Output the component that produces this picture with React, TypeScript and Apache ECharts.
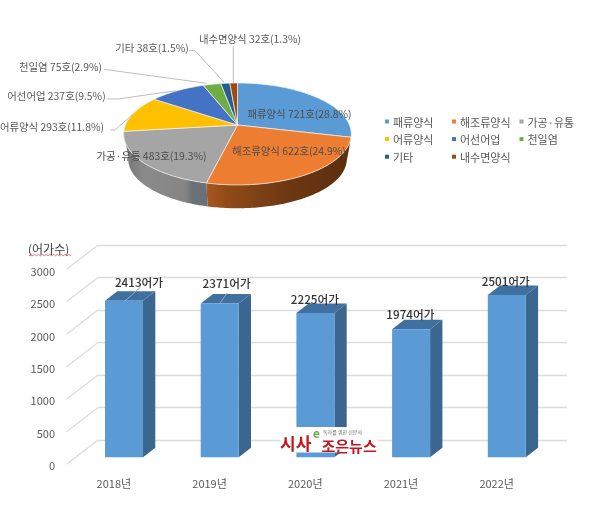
import React, { useEffect, useRef } from "react";
import * as echarts from "echarts";

// ---- data ----
const pieNames = ["패류양식", "해조류양식", "가공·유통", "어류양식", "어선어업", "천일염", "기타", "내수면양식"];
const pieCounts = [721, 622, 483, 293, 237, 75, 38, 32];
const piePercents = ["28.8", "24.9", "19.3", "11.8", "9.5", "2.9", "1.5", "1.3"];
const years = ["2018년", "2019년", "2020년", "2021년", "2022년"];
const farmCounts = [2413, 2371, 2225, 1974, 2501];
const yTicks = [0, 500, 1000, 1500, 2000, 2500, 3000];

// ---- styles and layout ----
const FONT = '"Noto Sans CJK KR", "Noto Sans", sans-serif';
const pieColors = ["#5b9bd5", "#ed7d31", "#a5a5a5", "#ffc000", "#4472c4", "#70ad47", "#255e91", "#9e480e"];
const GRID_LINE = "#dcdcdc";
const LEADER = "#bfbfbf";
const PIE = { cx: 237.5, cy: 125, r: 112, persp: 0.176, squash: 49.4, depth: 25.7, floorScale: 0.96 };
const BAR = { width: 38, dx: 12.3, dy: -9.5 };
// text centre for the pie labels, in pie order
const pieLabelPos = [
  [299.5, 113], [289, 150.7], [151.5, 155.7], [52, 126], [56.5, 95], [60.5, 66], [152, 47], [250, 38],
];
// leader polylines, in pie order (the first three labels sit on their slices)
const leaders: number[][][] = [
  [], [], [],
  [[110, 130], [115, 130], [133, 114]],
  [[106.7, 99], [118, 99], [176, 90.7]],
  [[104, 69.3], [206.7, 83.3]],
  [[189, 50.7], [195, 50.7], [224, 82.3]],
  [[233.3, 46], [233.3, 82.7]],
];
// bar label offset from the top-centre of the front face
const barLabelOffset = [[15, -19], [7, -21], [-0.5, -14.6], [-0.7, -16], [-1, -14]];
const barLeader = [[[0, 1], [16.5, -13.5]], [[0.5, -0.5], [7.5, -10.5]], null, null, null];

const projected = (deg: number, scale = 1, drop = 0) => {
  const t = (deg * Math.PI) / 180;
  const d = 1 + PIE.persp * Math.cos(t);
  return [
    PIE.cx + (PIE.r * scale * Math.sin(t)) / d,
    PIE.cy + drop - (PIE.squash * scale * Math.cos(t)) / d,
  ];
};
const arc = (a: number, b: number, scale = 1, drop = 0) => {
  const out: number[][] = [];
  const n = Math.max(2, Math.ceil(Math.abs(b - a)));
  for (let i = 0; i <= n; i++) out.push(projected(a + ((b - a) * i) / n, scale, drop));
  return out;
};
const total = pieCounts.reduce((s, v) => s + v, 0);
const sliceAngles = (i: number) => {
  const before = pieCounts.slice(0, i).reduce((s, v) => s + v, 0);
  return [(before / total) * 360, ((before + pieCounts[i]) / total) * 360];
};
const wall = (a: number, b: number, stops: [number, string][]) => ({
  type: "polygon",
  shape: { points: [...arc(a, b), ...arc(b, a, PIE.floorScale, PIE.depth)] },
  style: {
    fill: new echarts.graphic.LinearGradient(0, 0, 1, 0, stops.map(([offset, color]) => ({ offset, color }))),
    stroke: "none",
  },
});

const legendBase = {
  orient: "vertical" as const,
  icon: "rect",
  itemWidth: 4,
  itemHeight: 4,
  itemGap: 6.6,
  selectedMode: false,
  padding: 0,
  top: 116,
  textStyle: { color: "#595959", fontSize: 11, fontFamily: FONT, padding: [0, 0, 0, -1] },
};

const buildOption = () => ({
  animation: false,
  backgroundColor: "#ffffff",
  legend: [
    { ...legendBase, left: 385, data: [pieNames[0], pieNames[3], pieNames[6]] },
    { ...legendBase, left: 452, data: [pieNames[1], pieNames[4], pieNames[7]] },
    { ...legendBase, left: 519.5, data: [pieNames[2], pieNames[5]] },
  ],
  grid: [
    { left: 98, top: 245, width: 469, height: 195 },
    { left: 66, top: 271, width: 478.5, height: 194 },
    { left: 76.15, top: 262.6, width: 478.5, height: 194.7 },
  ],
  xAxis: [
    { type: "category", gridIndex: 0, data: years, show: false },
    {
      type: "category", gridIndex: 1, data: years,
      axisLine: { show: false }, axisTick: { show: false },
      axisLabel: { color: "#595959", fontSize: 11, fontFamily: FONT, margin: 12 },
    },
    { type: "category", gridIndex: 2, data: years, show: false },
  ],
  yAxis: [
    {
      type: "value", gridIndex: 0, min: 0, max: 3000, interval: 500,
      axisLine: { show: false }, axisTick: { show: false }, axisLabel: { show: false },
      splitLine: { lineStyle: { color: GRID_LINE, width: 1.4 } },
    },
    {
      type: "value", gridIndex: 1, min: 0, max: 3000, interval: 500,
      axisLine: { show: false }, axisTick: { show: false }, splitLine: { show: false },
      axisLabel: { color: "#595959", fontSize: 11, fontFamily: FONT, margin: 11, formatter: (v: number) => String(v) },
    },
    { type: "value", gridIndex: 2, min: 0, max: 3000, interval: 500, show: false },
  ],
  series: [
    // depth lines of the chart floor and side wall
    {
      type: "custom", name: "depth", xAxisIndex: 0, yAxisIndex: 0, silent: true, clip: false,
      data: yTicks.map((t) => [0, t]), encode: { x: 0, y: 1 },
      renderItem: (_p: any, api: any) => {
        const y = api.coord([0, api.value(1)])[1];
        return {
          type: "line",
          shape: { x1: 98, y1: y, x2: 66.5, y2: y + 24.3 },
          style: { stroke: GRID_LINE, lineWidth: 1.2 },
        };
      },
    },
    // bars
    {
      type: "custom", name: "어가수", xAxisIndex: 2, yAxisIndex: 2, clip: false,
      data: farmCounts.map((v, i) => [i, v]), encode: { x: 0, y: 1 },
      renderItem: (p: any, api: any) => {
        const i = api.value(0);
        const [cx, top] = api.coord([i, api.value(1)]);
        const bottom = api.coord([i, 0])[1];
        const l = cx - BAR.width / 2;
        const r = cx + BAR.width / 2;
        const { dx, dy } = BAR;
        const off = barLabelOffset[p.dataIndex];
        const lead = barLeader[p.dataIndex];
        const children: any[] = [
          { type: "polygon", shape: { points: [[r, top], [r + dx, top + dy], [r + dx, bottom + dy], [r, bottom]] }, style: { fill: "#3a668f" } },
          { type: "polygon", shape: { points: [[l, top], [l + dx, top + dy], [r + dx, top + dy], [r, top]] }, style: { fill: "#40709f" } },
          { type: "rect", shape: { x: l, y: top, width: BAR.width, height: bottom - top }, style: { fill: "#5b9bd5" } },
        ];
        if (lead) {
          children.push({
            type: "line",
            shape: { x1: cx + lead[0][0], y1: top + lead[0][1], x2: cx + lead[1][0], y2: top + lead[1][1] },
            style: { stroke: "#8fa9c2", lineWidth: 1 },
          });
        }
        children.push({
          type: "text",
          style: {
            x: cx + off[0], y: top + off[1],
            text: `${api.value(1)}어가`,
            align: "center", verticalAlign: "middle",
            fill: "#333333", fontSize: 11.7, fontWeight: 500, fontFamily: FONT,
          },
        });
        return { type: "group", children };
      },
    },
    // pie side wall
    {
      type: "custom", name: "pieWall", coordinateSystem: "none", silent: true, data: [[0]],
      renderItem: () => ({
        type: "group",
        children: [
          wall(sliceAngles(2)[0], 262, [[0, "#747474"], [0.25, "#8a8a8a"], [0.74, "#858585"], [0.82, "#6b7074"], [1, "#66707a"]]),
          wall(sliceAngles(1)[0], sliceAngles(1)[1], [[0, "#a9581f"], [0.15, "#8f4a18"], [0.55, "#6e3812"], [1, "#5a2e0f"]]),
        ],
      }),
    },
    // pie faces, one series per legend entry
    ...pieNames.map((name, i) => ({
      type: "custom", name, coordinateSystem: "none", itemStyle: { color: pieColors[i] },
      data: [[pieCounts[i]]],
      renderItem: () => {
        const [a, b] = sliceAngles(i);
        return {
          type: "polygon",
          shape: { points: [[PIE.cx, PIE.cy], ...arc(a, b)] },
          style: { fill: pieColors[i], stroke: "#f4f4f4", lineWidth: 0.7 },
        };
      },
    })),
    // pie labels and leaders
    {
      type: "custom", name: "pieLabels", coordinateSystem: "none", silent: true,
      data: pieNames.map((_, i) => [i]),
      renderItem: (p: any) => {
        const i = p.dataIndex;
        const children: any[] = [];
        if (leaders[i].length) {
          children.push({ type: "polyline", shape: { points: leaders[i] }, style: { stroke: LEADER, lineWidth: 1, fill: "none" } });
        }
        children.push({
          type: "text",
          style: {
            x: pieLabelPos[i][0], y: pieLabelPos[i][1],
            text: `${pieNames[i]} ${pieCounts[i]}호(${piePercents[i]}%)`,
            align: "center", verticalAlign: "middle",
            fill: i < 3 ? "#4d4d4d" : "#595959", fontSize: 10.4, fontFamily: FONT,
          },
        });
        return { type: "group", children };
      },
    },
  ],
  graphic: [
    { type: "text", z: 100, style: { x: 28, y: 248, text: "(어가수)", fill: "#404040", fontSize: 12, fontFamily: FONT, verticalAlign: "middle" } },
    {
      type: "polyline", z: 100,
      shape: { points: Array.from({ length: 23 }, (_, k) => [29 + k * 1.9, k % 2 ? 254.4 : 255.8]) },
      style: { stroke: "#d9534f", lineWidth: 0.8, fill: "none" },
    },
    { type: "rect", z: 100, shape: { x: 280, y: 427, width: 98, height: 25.5 }, style: { fill: "#ffffff" } },
    { type: "text", z: 101, style: { x: 280, y: 442.5, text: "시사", fill: "#c4161c", fontSize: 17, fontWeight: 700, fontFamily: FONT, verticalAlign: "middle" } },
    { type: "text", z: 101, style: { x: 313, y: 432.5, text: "e", fill: "#6aa84f", fontSize: 12, fontWeight: 700, fontFamily: FONT, verticalAlign: "middle" } },
    { type: "text", z: 101, style: { x: 321.5, y: 445, text: "조은뉴스", fill: "#c4161c", fontSize: 15, fontWeight: 700, fontFamily: FONT, verticalAlign: "middle" } },
    { type: "text", z: 101, style: { x: 323, y: 431, text: "독자를 위한 신문사", fill: "#666666", fontSize: 5, fontFamily: FONT, verticalAlign: "middle" } },
  ],
});

export default function App() {
  const ref = useRef<HTMLDivElement>(null);
  useEffect(() => {
    document.body.style.margin = "0";
    const chart = echarts.init(ref.current!, undefined, { renderer: "svg" });
    chart.setOption(buildOption() as any);
    return () => chart.dispose();
  }, []);
  return <div ref={ref} style={{ width: 600, height: 514, filter: "blur(0.35px)" }} />;
}
